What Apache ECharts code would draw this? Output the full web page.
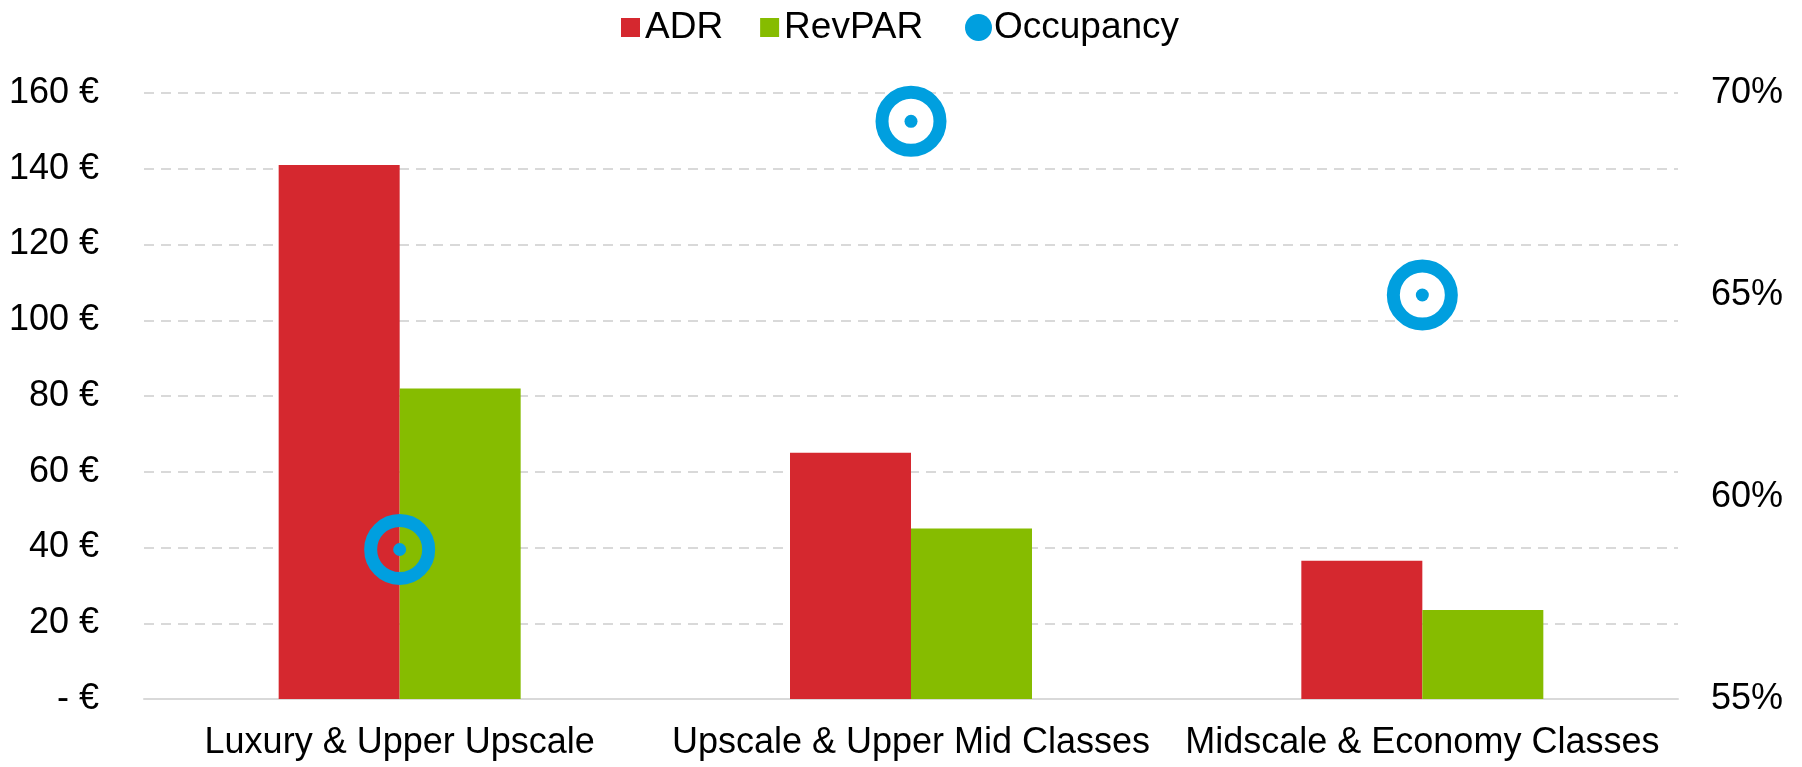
<!DOCTYPE html>
<html>
<head>
<meta charset="utf-8">
<title>Hotel classes</title>
<style type="text/css">
html, body {
	margin: 0;
	padding: 0;
	background-color: #fff;
}
#main {
	width: 1802px;
	height: 767px;
}
</style>
</head>
<body>
<div id="main"></div>
<script src="https://cdn.jsdelivr.net/npm/echarts@6/dist/echarts.min.js"></script>
<script type="text/javascript">
var categories = ['Luxury & Upper Upscale', 'Upscale & Upper Mid Classes', 'Midscale & Economy Classes'];
var adr = [141, 65, 36.5];
var revpar = [82, 45, 23.5];
var occupancy = [0.587, 0.693, 0.650];

var RED = '#d5282f', GREEN = '#86bc00', BLUE = '#009fdf';
var FONT = 'Liberation Sans, Arial, sans-serif';

var option = {
	animation: false,
	textStyle: { fontFamily: FONT },
	legend: [
		{
			left: 616,
			top: 4,
			itemWidth: 19,
			itemHeight: 19,
			itemGap: 37,
			textStyle: { fontSize: 37, color: '#000', fontFamily: FONT },
			data: [
				{ name: 'ADR', icon: 'rect' },
				{ name: 'RevPAR', icon: 'rect' }
			]
		},
		{
			left: 960,
			top: 4,
			itemWidth: 27,
			itemHeight: 27,
			textStyle: { fontSize: 37, color: '#000', fontFamily: FONT, padding: [0, 0, 0, -3] },
			data: [
				{ name: 'Occupancy', icon: 'circle', itemStyle: { color: BLUE, borderWidth: 0, opacity: 1 } }
			]
		}
	],
	grid: {
		left: 144,
		right: 124,
		top: 93,
		bottom: 68
	},
	xAxis: {
		type: 'category',
		data: categories,
		axisTick: { show: false },
		axisLine: { lineStyle: { color: '#d9d9d9', width: 2 } },
		axisLabel: { fontSize: 36, color: '#000', margin: 26, fontFamily: FONT, interval: 0, hideOverlap: false }
	},
	yAxis: [
		{
			type: 'value',
			min: 0,
			max: 160,
			interval: 20,
			axisLine: { show: false },
			axisTick: { show: false },
			splitLine: { lineStyle: { color: '#d9d9d9', width: 2, type: [10, 7] } },
			axisLabel: {
				fontSize: 36,
				color: '#000',
				margin: 45,
				fontFamily: FONT,
				formatter: function (v) { return v === 0 ? '- €' : v + ' €'; }
			}
		},
		{
			type: 'value',
			min: 0.55,
			max: 0.70,
			interval: 0.05,
			axisLine: { show: false },
			axisTick: { show: false },
			splitLine: { show: false },
			axisLabel: {
				fontSize: 36,
				color: '#000',
				margin: 33,
				fontFamily: FONT,
				formatter: function (v) { return Math.round(v * 100) + '%'; }
			}
		}
	],
	series: [
		{
			name: 'ADR',
			type: 'bar',
			data: adr,
			barWidth: 121,
			barGap: '0%',
			itemStyle: { color: RED }
		},
		{
			name: 'RevPAR',
			type: 'bar',
			data: revpar,
			barWidth: 121,
			barGap: '0%',
			itemStyle: { color: GREEN }
		},
		{
			name: 'Occupancy',
			type: 'scatter',
			yAxisIndex: 1,
			data: occupancy,
			symbol: 'circle',
			symbolSize: 58,
			itemStyle: { color: 'rgba(0,0,0,0)', borderColor: BLUE, borderWidth: 13, opacity: 1 },
			z: 5
		},
		{
			name: 'Occupancy',
			type: 'scatter',
			yAxisIndex: 1,
			data: occupancy,
			symbol: 'circle',
			symbolSize: 13,
			itemStyle: { color: BLUE, opacity: 1 },
			z: 6
		}
	]
};

var myChart = echarts.init(document.getElementById('main'));
myChart.setOption(option);
</script>
</body>
</html>
